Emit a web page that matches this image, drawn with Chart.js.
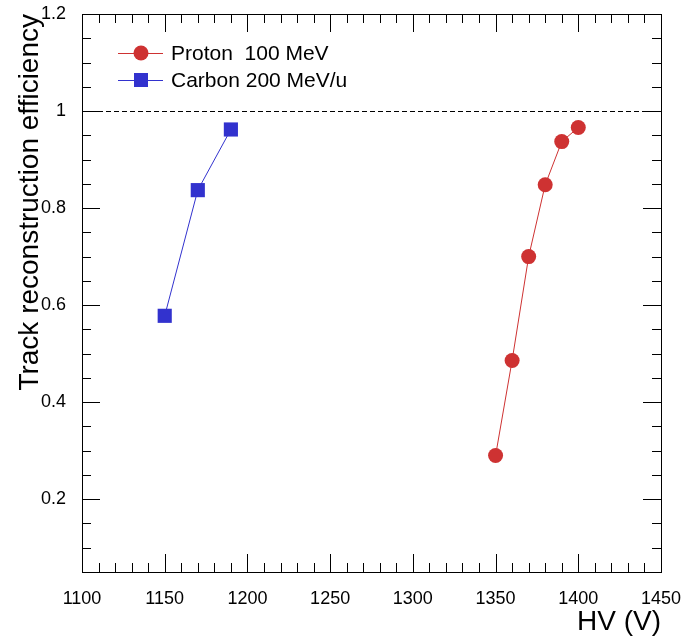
<!DOCTYPE html>
<html>
<head>
<meta charset="utf-8">
<script src="https://cdn.jsdelivr.net/npm/chart.js@4.4.1/dist/chart.umd.min.js"></script>
<style>
  html, body { margin: 0; padding: 0; background: #fff; }
  #wrap { width: 685px; height: 639px; }
</style>
</head>
<body>
<div id="wrap"><canvas id="ctx" width="685" height="639"></canvas></div>
<script>
// data
const protonHV  = [1350, 1360, 1370, 1380, 1390, 1400];
const protonEff = [0.29, 0.486, 0.70, 0.848, 0.937, 0.966];
const carbonHV  = [1150, 1170, 1190];
const carbonEff = [0.578, 0.837, 0.962];

const xTicks = [1100, 1150, 1200, 1250, 1300, 1350, 1400, 1450];
const yTicks = [0.2, 0.4, 0.6, 0.8, 1, 1.2];
const yTickLabels = ['0.2', '0.4', '0.6', '0.8', '1', '1.2'];

const red = 'rgb(206,50,50)';
const blue = 'rgb(50,50,206)';
const font = "'Liberation Sans', Arial, Helvetica, sans-serif";

function toPoints(xs, ys) {
    return xs.map((x, i) => ({ x: x, y: ys[i] }));
}

function noPad(scale) {
    scale.paddingTop = 0;
    scale.paddingBottom = 0;
    scale.paddingLeft = 0;
    scale.paddingRight = 0;
}

// ROOT style frame: box, inward ticks on all four sides, dashed line at 1, legend
const rootFrame = {
    id: 'rootFrame',
    afterDatasetsDraw(chart) {
        const c = chart.ctx;
        const a = chart.chartArea;
        const xs = chart.scales.x, ys = chart.scales.y;
        c.save();
        c.strokeStyle = '#000';
        c.lineWidth = 1;

        // dashed line at efficiency = 1
        const y1 = Math.round(ys.getPixelForValue(1)) + 0.5;
        c.setLineDash([5, 3]);
        c.beginPath();
        c.moveTo(a.left, y1);
        c.lineTo(a.right, y1);
        c.stroke();
        c.setLineDash([]);

        c.strokeRect(Math.round(a.left) + 0.5, Math.round(a.top) + 0.5,
                     Math.round(a.right - a.left), Math.round(a.bottom - a.top));

        // x ticks every 10, major every 50
        for (let v = 1100; v <= 1450; v += 10) {
            const px = Math.round(xs.getPixelForValue(v)) + 0.5;
            const len = (v % 50 === 0) ? 18 : 9;
            c.beginPath();
            c.moveTo(px, a.bottom); c.lineTo(px, a.bottom - len);
            c.moveTo(px, a.top); c.lineTo(px, a.top + len);
            c.stroke();
        }
        // y ticks every 0.05, major every 0.2
        for (let k = 1; k <= 24; k++) {
            const v = k * 0.05;
            if (v < ys.min) continue;
            const py = Math.round(ys.getPixelForValue(v)) + 0.5;
            const len = (k % 4 === 0) ? 18 : 9;
            c.beginPath();
            c.moveTo(a.left, py); c.lineTo(a.left + len, py);
            c.moveTo(a.right, py); c.lineTo(a.right - len, py);
            c.stroke();
        }

        // legend
        const entries = chart.data.datasets;
        c.font = '21px ' + font;
        c.textBaseline = 'middle';
        entries.forEach((ds, i) => {
            const ly = 53 + i * 27;
            c.strokeStyle = ds.borderColor;
            c.beginPath();
            c.moveTo(118, ly + 0.5); c.lineTo(163, ly + 0.5);
            c.stroke();
            c.fillStyle = ds.pointBackgroundColor;
            if (ds.pointStyle === 'circle') {
                c.beginPath();
                c.arc(141, ly, 7.5, 0, Math.PI * 2);
                c.fill();
            } else {
                c.fillRect(134, ly - 7, 14, 14);
            }
            c.fillStyle = '#000';
            c.fillText(ds.label, 171, ly + 1);
        });
        c.restore();
    }
};

const config = {
    type: 'scatter',
    data: {
        datasets: [
            {
                label: 'Proton  100 MeV',
                data: toPoints(protonHV, protonEff),
                showLine: true,
                borderColor: red,
                borderWidth: 1,
                pointStyle: 'circle',
                pointRadius: 7.5,
                pointBorderWidth: 0,
                pointBackgroundColor: red,
            },
            {
                label: 'Carbon 200 MeV/u',
                data: toPoints(carbonHV, carbonEff),
                showLine: true,
                borderColor: blue,
                borderWidth: 1,
                pointStyle: 'rect',
                pointRadius: 10,
                pointBorderWidth: 0,
                pointBackgroundColor: blue,
            },
        ]
    },
    options: {
        responsive: false,
        animation: false,
        layout: { padding: { top: 14, right: 24, left: 0, bottom: 0 } },
        plugins: {
            legend: { display: false },
            tooltip: { enabled: false },
        },
        scales: {
            x: {
                type: 'linear',
                min: 1100,
                max: 1450,
                afterFit: function(scale) { scale.height = 67; noPad(scale); },
                afterBuildTicks: function(scale) {
                    scale.ticks = xTicks.map(v => ({ value: v }));
                },
                grid: { display: false },
                border: { display: false },
                ticks: {
                    color: '#000',
                    font: { family: font, size: 18 },
                    padding: 8,
                    maxRotation: 0,
                    callback: v => String(v),
                },
                title: {
                    display: true,
                    text: 'HV (V)',
                    align: 'end',
                    color: '#000',
                    font: { family: font, size: 28 },
                    padding: { top: 0, bottom: 0 },
                },
            },
            y: {
                type: 'linear',
                min: 0.05,
                max: 1.2,
                afterFit: function(scale) { scale.width = 82; noPad(scale); },
                afterBuildTicks: function(scale) {
                    scale.ticks = yTicks.map(v => ({ value: v }));
                },
                grid: { display: false },
                border: { display: false },
                ticks: {
                    color: '#000',
                    font: { family: font, size: 18 },
                    padding: 8,
                    callback: function(value, index) { return yTickLabels[index]; },
                },
                title: {
                    display: true,
                    text: 'Track reconstruction efficiency',
                    align: 'end',
                    color: '#000',
                    font: { family: font, size: 28 },
                    padding: { top: 13, bottom: 0 },
                },
            },
        },
    },
    plugins: [rootFrame],
};

const chart = new Chart(document.getElementById('ctx').getContext('2d'), config);
</script>
</body>
</html>
